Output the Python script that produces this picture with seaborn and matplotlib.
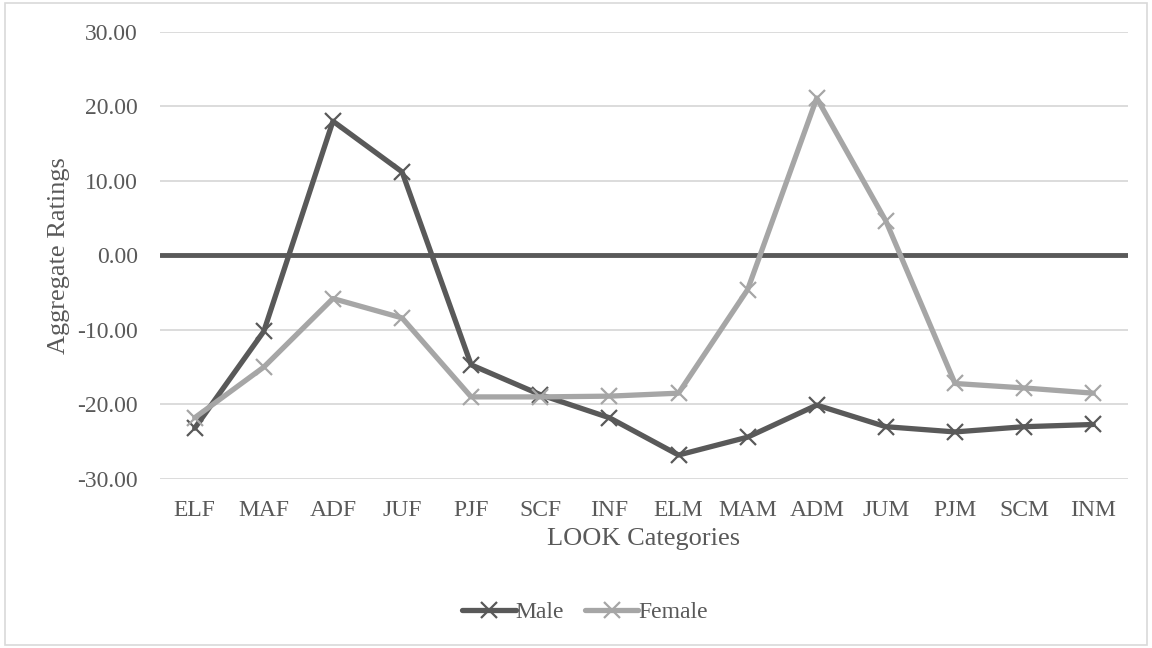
import matplotlib
matplotlib.use("Agg")
import matplotlib.pyplot as plt
import seaborn as sns
import pandas as pd
from matplotlib.patches import Rectangle

categories = ["ELF", "MAF", "ADF", "JUF", "PJF", "SCF", "INF",
              "ELM", "MAM", "ADM", "JUM", "PJM", "SCM", "INM"]
male = [-23.2, -10.2, 18.0, 11.2, -14.7, -18.7, -21.8,
        -26.8, -24.4, -20.1, -23.0, -23.7, -23.0, -22.7]
female = [-21.8, -15.0, -5.8, -8.4, -19.0, -19.0, -18.9,
          -18.5, -4.6, 21.1, 4.6, -17.2, -17.8, -18.5]
y_ticks = [-30, -20, -10, 0, 10, 20, 30]

sns.set_theme(style="white")
plt.rcParams['font.family'] = ['Liberation Serif', 'DejaVu Serif']

text_color = "#595959"
male_color = "#595959"
female_color = "#A6A6A6"
fs = 17
fs_title = 19

fig = plt.figure(figsize=(11.52, 6.48), dpi=100)
ax = fig.add_axes([0.139, 0.261, 0.840, 0.690])

df = pd.DataFrame({"cat": categories * 2,
                   "val": male + female,
                   "series": ["Male"] * len(male) + ["Female"] * len(female)})

for name, col in [("Male", male_color), ("Female", female_color)]:
    sub = df[df.series == name]
    sns.lineplot(data=sub, x="cat", y="val", ax=ax, color=col, lw=3.8,
                 marker="x", markersize=11, markeredgewidth=1.6,
                 markeredgecolor=col, label=name, sort=False, zorder=3)

ax.set_xlim(-0.5, len(categories) - 0.5)
ax.set_ylim(-30, 30)
ax.set_yticks(y_ticks)
ax.set_yticklabels([f"{v:.2f}" for v in y_ticks])
ax.yaxis.grid(True, color="#D9D9D9", lw=1.3)
ax.xaxis.grid(False)
ax.axhline(0, color="#595959", lw=3.5, zorder=2)
for s in ax.spines.values():
    s.set_visible(False)
ax.tick_params(axis="both", length=0, labelsize=fs, colors=text_color)
ax.tick_params(axis="y", pad=16)
ax.tick_params(axis="x", pad=15)
ax.set_xlabel("LOOK Categories", fontsize=fs_title, color=text_color, labelpad=5)
ax.set_ylabel("Aggregate Ratings", fontsize=fs_title, color=text_color, labelpad=5)

ax.get_legend().remove()
handles, labels = ax.get_legend_handles_labels()
leg = fig.legend(handles, labels, loc="center", bbox_to_anchor=(0.508, 0.055),
                 ncol=2, frameon=False, fontsize=fs, handlelength=2.25,
                 handletextpad=0.0, columnspacing=0.9)
for t in leg.get_texts():
    t.set_color(text_color)

fig.patches.append(Rectangle((0.004, 0.004), 0.992, 0.992, transform=fig.transFigure,
                             fill=False, edgecolor="#D9D9D9", lw=1.2))

fig.savefig("out.png", dpi=100, facecolor="white")
